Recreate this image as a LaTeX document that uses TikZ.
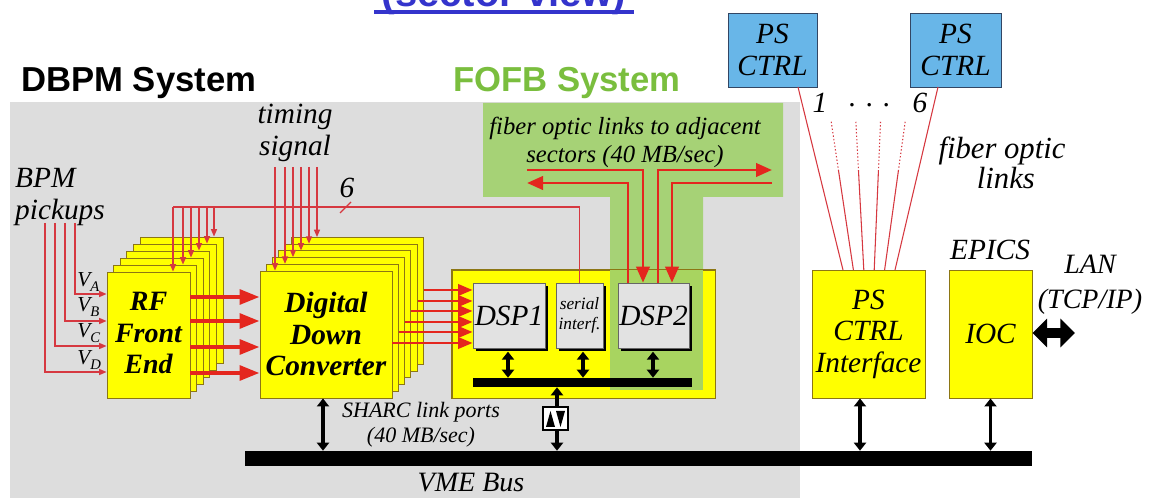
\documentclass[tikz,border=0pt]{standalone}
\usepackage{fontspec}
\setmainfont{Liberation Serif}
\newfontfamily\titlefont{Liberation Sans}
\usetikzlibrary{arrows.meta,calc,shadows}
\newcommand{\myfs}[2]{\fontsize{#1}{#2}\selectfont}
\definecolor{bggray}{RGB}{221,221,221}
\definecolor{fofbgreen}{RGB}{166,210,118}
\definecolor{overlapgreen}{RGB}{168,212,96}
\definecolor{titlegreen}{RGB}{122,190,62}
\definecolor{cardyellow}{RGB}{255,255,0}
\definecolor{cardedge}{RGB}{140,118,20}
\definecolor{myred}{RGB}{228,38,30}
\definecolor{tred}{RGB}{214,56,64}
\definecolor{psblue}{RGB}{104,182,232}
\definecolor{psedge}{RGB}{50,70,100}
\definecolor{dspgray}{RGB}{226,226,226}
\definecolor{linkblue}{RGB}{52,52,204}
\begin{document}
\begin{tikzpicture}[x=0.75pt,y=-0.75pt,
 sz/.style 2 args={minimum width={#1*0.75pt},minimum height={#2*0.75pt}},
 card/.style={draw=cardedge,fill=cardyellow,line width=0.7pt,inner sep=0pt},
 psbox/.style={draw=psedge,fill=psblue,line width=0.7pt,inner sep=0pt,align=center,font=\myfs{22}{24}\itshape},
 dspbox/.style={draw=black!60,fill=dspgray,line width=0.5pt,inner sep=0pt,align=center,
   drop shadow={fill=black,opacity=1,shadow xshift=2.5pt,shadow yshift=-2.5pt}},
 bigred/.style={draw=myred,line width=3pt,-{Triangle[length=15pt,width=11pt]}},
 midred/.style={draw=myred,line width=2.2pt,-{Triangle[length=11pt,width=8.5pt]}},
 fofbred/.style={draw=myred,line width=2.2pt,-{Triangle[length=12pt,width=10pt]}},
 thinline/.style={draw=tred,line width=0.9pt},
 thinarr/.style={thinline,-{Triangle[length=5.5pt,width=4.5pt]}},
 fiber/.style={draw=tred,line width=0.8pt},
 blkarr/.style={draw=black,line width=2.6pt,{Triangle[length=6pt,width=9pt]}-{Triangle[length=6pt,width=9pt]}},
 lanarr/.style={draw=black,line width=7.5pt,{Triangle[length=11pt,width=21pt]}-{Triangle[length=11pt,width=21pt]}},
 bus/.style={fill=black,inner sep=0pt},
 lbl/.style={font=\myfs{22}{24}\itshape,align=center,inner sep=0pt},
 title/.style={font=\titlefont\bfseries\myfs{26}{30},inner sep=0pt},
]
\useasboundingbox (0,0) rectangle (1149,498);
\fill[white] (0,0) rectangle (1149,498);
% regions
\fill[bggray] (10,102) rectangle (800,498);
\fill[fofbgreen] (483,103) -- (783,103) -- (783,197) -- (703,197) -- (703,390) -- (610,390) -- (610,197) -- (483,197) -- cycle;
% titles
\node[font=\titlefont\bfseries\myfs{30}{32},text=linkblue,anchor=base,inner sep=0pt] (sect) at (504,7) {(sector view)};
\draw[linkblue,line width=2.4pt] (374,12) -- (634,12);
\node[title,anchor=base west] (dbpm) at (21,92) {DBPM System};
\node[title,text=titlegreen,anchor=base west] (fofb) at (453,92) {FOFB System};
% RF cards
\foreach \k in {5,...,0} \node[card,sz={83}{126}] (rf\k) at ({148.5+6.6*\k},{335-7*\k}) {};
\node[font=\myfs{21}{23.5}\bfseries\itshape,align=center,inner sep=0pt] (rflab) at (148.5,333) {RF\\Front\\End};
% DDC cards
\foreach \k in {5,...,0} \node[card,sz={132}{127}] (ddc\k) at ({326+6.3*\k},{334.5-6.7*\k}) {};
\node[font=\myfs{22}{23.6}\bfseries\itshape,align=center,inner sep=0pt] (ddclab) at (326,334) {Digital\\Down\\Converter};
% DSP board
\node[card,sz={263}{128}] (board) at (583.5,334) {};
\fill[overlapgreen] (610,270) rectangle (703,390);
\draw[cardedge,line width=0.7pt] (board.south west) rectangle (board.north east);
\node[dspbox,sz={72}{65},font=\myfs{22}{24}\itshape] (dsp1) at (509,315.5) {DSP1};
\node[dspbox,sz={47}{65},font=\myfs{13}{15}\itshape] (serial) at (579.5,315.5) {serial\\interf.};
\node[dspbox,sz={71}{65},font=\myfs{22}{24}\itshape] (dsp2) at (653.5,315.5) {DSP2};
\node[bus,sz={219}{9}] (ibus) at (582.5,382.5) {};
% VME bus
\node[bus,sz={787}{15}] (vme) at (638.5,458.5) {};
\node[lbl,font=\myfs{21}{24}\itshape,anchor=base] (vmelab) at (471,492) {VME Bus};
% right boxes
\node[card,sz={113}{128},align=center,font=\myfs{22}{23.6}\itshape] (psif) at (868.5,334) {PS\\CTRL\\Interface};
\node[card,sz={83}{128},font=\myfs{22}{24}\itshape] (ioc) at (990.5,334) {IOC};
\node[psbox,sz={89}{74}] (pscl) at (772.5,50) {PS\\CTRL};
\node[psbox,sz={91}{74}] (pscr) at (955.5,50) {PS\\CTRL};
% labels
\node[lbl] (timing) at (295,133) {timing\\signal};
\node[lbl,align=left] (bpm) at (60,197) {BPM\\pickups};
\node[lbl] (six) at (347,188) {6};
\node[font=\myfs{18.5}{21}\itshape,align=center,inner sep=0pt] (fol) at (625,142) {fiber optic links to adjacent\\sectors (40 MB/sec)};
\node[font=\myfs{16.5}{19}\itshape,align=center,inner sep=0pt] (sharc) at (421,425) {SHARC link ports\\(40 MB/sec)};
\node[lbl] (epics) at (990,250) {EPICS};
\node[lbl,font=\myfs{21}{26}\itshape] (lan) at (1090,285) {LAN\\(TCP/IP)};
\node[lbl] (one) at (820,103) {1};
\node[lbl] (dots) at (870,105) {.\,\,.\,\,.};
\node[lbl] (sixb) at (920,103) {6};
\node[lbl,font=\myfs{23}{22.5}\itshape] (fiblab) at (1002,163) {fiber optic\\\ links};
% V labels
\foreach \yy/\l in {287/A,312/B,338/C,365/D}
  \node[anchor=base west,inner sep=0pt,font=\myfs{16}{16}\itshape] at (77,\yy) {V\raisebox{-0.45ex}{\myfs{11}{11}\l}};
% BPM pickup arrows
\foreach \x/\yy in {45/372,55/346,65/321,75/294}
  \draw[thinarr] (\x,223) |- (rf0.west |- 0,\yy);
% RF -> DDC
\foreach \yy in {297,321,347,373}
  \draw[bigred] (rf0.east |- 0,\yy) -- (ddc0.west |- 0,\yy);
% DDC -> DSP1
\foreach \k/\yy in {5/290,4/301,3/311,2/322,1/332,0/343}
  \draw[midred] (ddc\k.east |- 0,\yy) -- (dsp1.west |- 0,\yy);
% timing to DDC
\foreach \k/\x in {0/275,1/285,2/293,3/301,4/309,5/317}
  \draw[thinarr] (\x,167) -- (\x,0 |- ddc\k.north);
% serial interface line to RF
\draw[thinline] (serial.north) |- (173,207);
\foreach \k/\x in {0/173,1/183,2/191,3/199,4/207,5/214}
  \draw[thinarr] (\x,207) -- (\x,0 |- rf\k.north);
\draw[thinline] (340,213) -- (351,202);
% FOFB links
\coordinate (fl1) at (527,170);
\coordinate (fl2) at (527,183);
\coordinate (fr1) at (772,170);
\coordinate (fr2) at (772,183);
\draw[fofbred] (fl1) -| (dsp2.north -| 643,0);
\draw[fofbred] (dsp2.north -| 628,0) |- (fl2);
\draw[fofbred] (dsp2.north -| 658,0) |- (fr1);
\draw[fofbred] (fr2) -| (dsp2.north -| 672,0);
% black bus arrows
\draw[blkarr,shorten <=2.5pt] (dsp1.south -| 508,0) -- (ibus.north -| 508,0);
\draw[blkarr,shorten <=2.5pt] (serial.south -| 583,0) -- (ibus.north -| 583,0);
\draw[blkarr,shorten <=2.5pt] (dsp2.south -| 653,0) -- (ibus.north -| 653,0);
\draw[blkarr] (ibus.south -| 557,0) -- (vme.north -| 557,0);
\node[draw=black,fill=white,sz={25}{23},line width=0.8pt,inner sep=0pt] (buf) at (555.5,418.5) {};
\fill[black] (546,427) -- (555,427) -- (550.5,411) -- cycle;
\fill[black] (556,411) -- (565,411) -- (560.5,427) -- cycle;
\draw[blkarr] (ddc0.south -| 323,0) -- (vme.north -| 323,0);
\draw[blkarr] (psif.south -| 860,0) -- (vme.north -| 860,0);
\draw[blkarr] (ioc.south) -- (ioc.south |- vme.north);
\coordinate (lanend) at (1075,333);
\draw[lanarr] (ioc.east |- 0,333) -- (lanend);
% fiber optic links
\foreach \i in {0,...,5} {
  \coordinate (ft\i) at ({798+28*\i},87);
  \coordinate (fb\i) at ({843+10.4*\i},270);
}
\draw[fiber] (ft0) -- (fb0);
\draw[fiber] (ft5) -- (fb5);
\foreach \i in {1,...,4} {
  \draw[fiber,dash pattern=on 1pt off 1.6pt] ($(ft\i)!0.19!(fb\i)$) -- ($(ft\i)!0.454!(fb\i)$);
  \draw[fiber] ($(ft\i)!0.454!(fb\i)$) -- (fb\i);
}
\end{tikzpicture}
\end{document}
